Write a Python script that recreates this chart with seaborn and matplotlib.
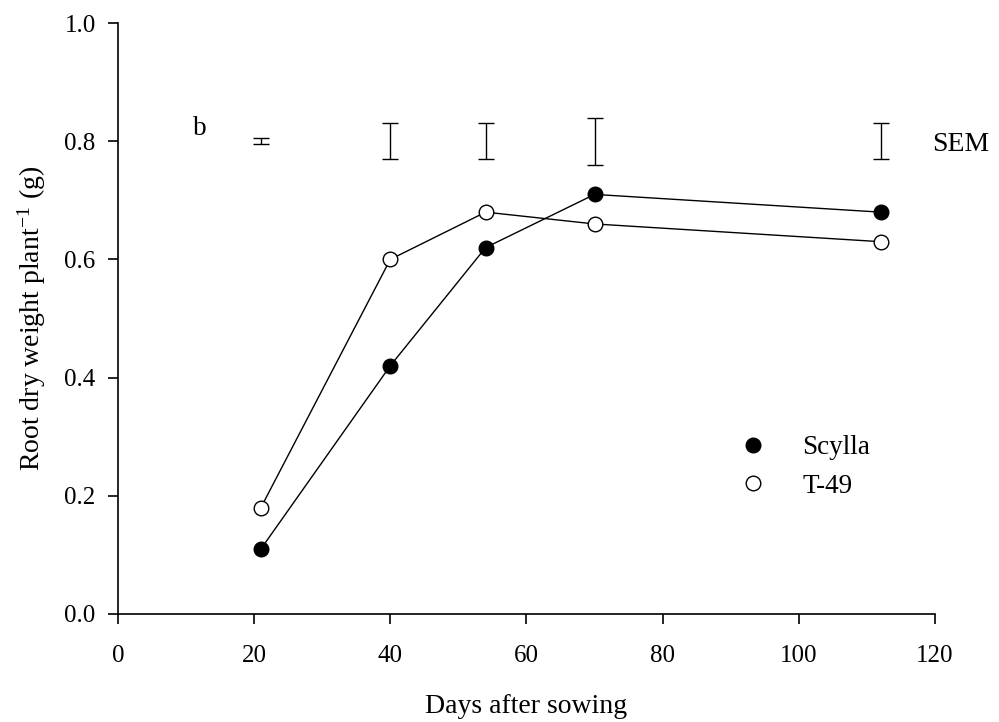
import matplotlib
matplotlib.use("Agg")
import matplotlib.pyplot as plt
from matplotlib.lines import Line2D
import seaborn as sns
import pandas as pd

days = [21, 40, 54, 70, 112]
scylla = [0.11, 0.42, 0.62, 0.71, 0.68]
t49 = [0.18, 0.60, 0.68, 0.66, 0.63]

sem_x = [21, 40, 54, 70, 112]
sem_half = [0.005, 0.03, 0.03, 0.04, 0.03]
sem_center = 0.80

sns.set_theme(style="ticks")
plt.rcParams["font.family"] = ["Liberation Serif", "DejaVu Serif"]
plt.rcParams["mathtext.fontset"] = "stix"
plt.rcParams["text.color"] = "black"
plt.rcParams["axes.labelcolor"] = "black"
plt.rcParams["xtick.color"] = "black"
plt.rcParams["ytick.color"] = "black"

df = pd.DataFrame({
    "Days": days * 2,
    "Weight": scylla + t49,
    "Cultivar": ["Scylla"] * len(days) + ["T-49"] * len(days),
})

fig = plt.figure(figsize=(9.99, 7.22), dpi=100)
ax = fig.add_axes([0.118, 0.1496, 0.818, 0.8185])

TICK_FS = 18
LABEL_FS = 20
TEXT_FS = 19.5

for name, face in [("Scylla", "black"), ("T-49", "white")]:
    sub = df[df["Cultivar"] == name]
    sns.lineplot(data=sub, x="Days", y="Weight", ax=ax, color="black", lw=1.0,
                 marker="o", markersize=10.5, markerfacecolor=face,
                 markeredgecolor="black", markeredgewidth=1.0,
                 legend=False, zorder=3)

ax.errorbar(sem_x, [sem_center] * len(sem_x), yerr=sem_half, fmt="none",
            ecolor="black", elinewidth=1.0, capsize=6, capthick=1.0)
ax.text(12, 0.80, "b", fontsize=TEXT_FS, ha="center", va="bottom")
ax.text(119.5, 0.795, "SEM", fontsize=LABEL_FS, ha="left", va="center")

handles = [Line2D([], [], ls="none", marker="o", ms=10.5, mfc="black", mec="black"),
           Line2D([], [], ls="none", marker="o", ms=10.5, mfc="white", mec="black")]
ax.legend(handles, ["Scylla", "T-49"], loc="upper left", bbox_to_anchor=(0.723, 0.344),
          frameon=False, fontsize=TEXT_FS, handletextpad=1.05, labelspacing=0.5,
          handlelength=1.5)

ax.set_xlim(0, 120)
ax.set_ylim(0, 1.0)
ax.set_xticks([0, 20, 40, 60, 80, 100, 120])
ax.set_yticks([0.0, 0.2, 0.4, 0.6, 0.8, 1.0])
ax.set_yticklabels(["0.0", "0.2", "0.4", "0.6", "0.8", "1.0"])
ax.tick_params(labelsize=TICK_FS, direction="out", length=7, width=1.2, color="black")
ax.tick_params(axis="x", pad=15)
ax.tick_params(axis="y", pad=9)
ax.set_xlabel("Days after sowing", fontsize=LABEL_FS, labelpad=20)
ax.set_ylabel("Root dry weight plant$^{\\mathregular{-1}}$ (g)", fontsize=LABEL_FS, labelpad=12)
for s in ["left", "bottom"]:
    ax.spines[s].set_linewidth(1.2)
    ax.spines[s].set_color("black")
sns.despine(ax=ax)

fig.savefig("out.png", dpi=100)
